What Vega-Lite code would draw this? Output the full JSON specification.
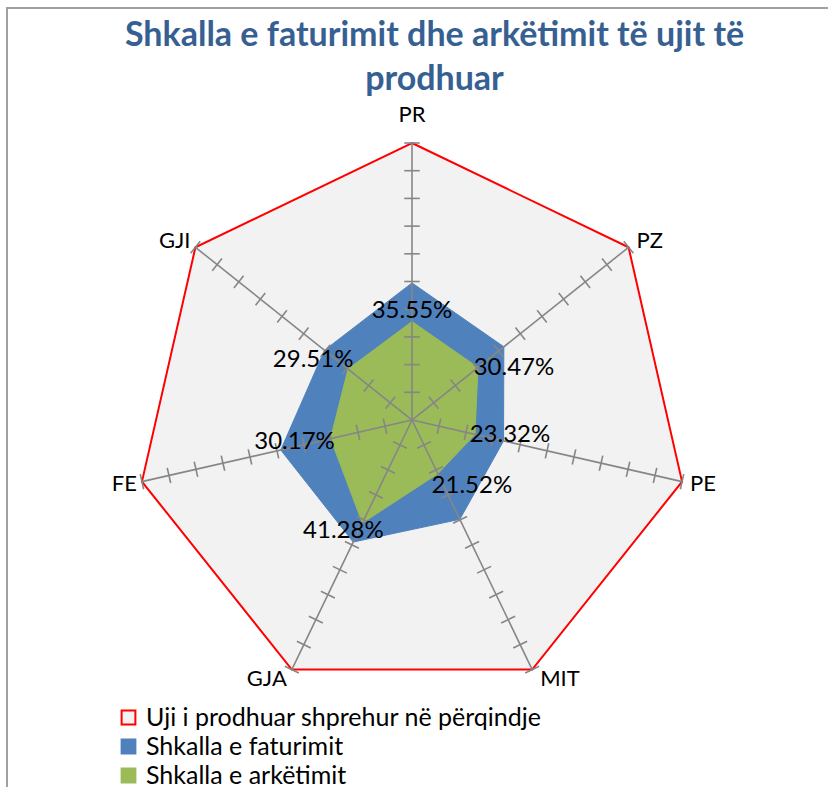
{
  "$schema": "https://vega.github.io/schema/vega-lite/v6.json",
  "width": 821,
  "height": 779,
  "autosize": {"type": "none"},
  "padding": {"left": 7, "top": 8, "right": 0, "bottom": 0},
  "background": "#ffffff",
  "title": {
    "text": ["Shkalla e faturimit dhe arkëtimit të ujit të", "prodhuar"],
    "font": "Lato", "fontSize": 34, "fontWeight": "bold", "color": "#376092",
    "anchor": "middle", "frame": "group", "offset": 0, "dy": 89, "dx": 17, "lineHeight": 44
  },
  "config": {
    "view": {"stroke": "#a0a0a0", "strokeWidth": 2, "strokeDash": [821, 1600, 779]},
    "text": {"font": "Lato", "color": "#000000"}
  },
  "datasets": {
    "radar": [
      {"k": "PR", "s": "Uji i prodhuar shprehur në përqindje", "v": 100},
      {"k": "PZ", "s": "Uji i prodhuar shprehur në përqindje", "v": 100},
      {"k": "PE", "s": "Uji i prodhuar shprehur në përqindje", "v": 100},
      {"k": "MIT", "s": "Uji i prodhuar shprehur në përqindje", "v": 100},
      {"k": "GJA", "s": "Uji i prodhuar shprehur në përqindje", "v": 100},
      {"k": "FE", "s": "Uji i prodhuar shprehur në përqindje", "v": 100},
      {"k": "GJI", "s": "Uji i prodhuar shprehur në përqindje", "v": 100},
      {"k": "PR", "s": "Shkalla e faturimit", "v": 49.5},
      {"k": "PZ", "s": "Shkalla e faturimit", "v": 42.4},
      {"k": "PE", "s": "Shkalla e faturimit", "v": 33.9},
      {"k": "MIT", "s": "Shkalla e faturimit", "v": 39.8},
      {"k": "GJA", "s": "Shkalla e faturimit", "v": 48.9},
      {"k": "FE", "s": "Shkalla e faturimit", "v": 48.6},
      {"k": "GJI", "s": "Shkalla e faturimit", "v": 40.4},
      {"k": "PR", "s": "Shkalla e arkëtimit", "v": 35.55},
      {"k": "PZ", "s": "Shkalla e arkëtimit", "v": 30.47},
      {"k": "PE", "s": "Shkalla e arkëtimit", "v": 23.32},
      {"k": "MIT", "s": "Shkalla e arkëtimit", "v": 21.52},
      {"k": "GJA", "s": "Shkalla e arkëtimit", "v": 41.28},
      {"k": "FE", "s": "Shkalla e arkëtimit", "v": 30.17},
      {"k": "GJI", "s": "Shkalla e arkëtimit", "v": 29.51}
    ],
    "spokes": [
      {"k": "PR", "t": [0.1, 0.2, 0.3, 0.4, 0.5, 0.6, 0.7, 0.8, 0.9, 1]},
      {"k": "PZ", "t": [0.1, 0.2, 0.3, 0.4, 0.5, 0.6, 0.7, 0.8, 0.9, 1]},
      {"k": "PE", "t": [0.1, 0.2, 0.3, 0.4, 0.5, 0.6, 0.7, 0.8, 0.9, 1]},
      {"k": "MIT", "t": [0.1, 0.2, 0.3, 0.4, 0.5, 0.6, 0.7, 0.8, 0.9, 1]},
      {"k": "GJA", "t": [0.1, 0.2, 0.3, 0.4, 0.5, 0.6, 0.7, 0.8, 0.9, 1]},
      {"k": "FE", "t": [0.1, 0.2, 0.3, 0.4, 0.5, 0.6, 0.7, 0.8, 0.9, 1]},
      {"k": "GJI", "t": [0.1, 0.2, 0.3, 0.4, 0.5, 0.6, 0.7, 0.8, 0.9, 1]}
    ]
  },
  "data": {"name": "radar"},
  "transform": [
    {"calculate": "indexof(['PR','PZ','PE','MIT','GJA','FE','GJI'], datum.k)", "as": "idx"},
    {"calculate": "datum.idx * 2 * PI / 7", "as": "a"},
    {"calculate": "datum.v / 100", "as": "r"},
    {"calculate": "datum.r * sin(datum.a)", "as": "x"},
    {"calculate": "datum.r * cos(datum.a)", "as": "y"},
    {"calculate": "datum.r * cos(datum.a) * 1.036", "as": "ly"},
    {"calculate": "format(datum.v, '.2f') + '%'", "as": "lab"}
  ],
  "layer": [
    {
      "transform": [{"filter": "datum.s == 'Uji i prodhuar shprehur në përqindje'"}],
      "mark": {"type": "line", "interpolate": "linear-closed", "strokeWidth": 2},
      "encoding": {
        "x": {"field": "x", "type": "quantitative", "scale": {"domain": [-1.4621, 1.5018], "nice": false, "zero": false}, "axis": null},
        "y": {"field": "y", "type": "quantitative", "scale": {"domain": [-1.3249, 1.4874], "nice": false, "zero": false}, "axis": null},
        "order": {"field": "idx", "type": "quantitative"},
        "fill": {"field": "s", "type": "nominal",
          "scale": {"domain": ["Uji i prodhuar shprehur në përqindje", "Shkalla e faturimit", "Shkalla e arkëtimit"], "range": ["#f2f2f2", "#4f81bd", "#9bbb59"]},
          "legend": {"title": null, "orient": "none", "legendX": 109, "legendY": 697, "symbolType": "square", "symbolSize": 190, "symbolStrokeWidth": 2, "labelFont": "Lato", "labelFontSize": 25, "labelColor": "#000000", "labelLimit": 700, "rowPadding": 3, "labelOffset": 5}},
        "stroke": {"field": "s", "type": "nominal",
          "scale": {"domain": ["Uji i prodhuar shprehur në përqindje", "Shkalla e faturimit", "Shkalla e arkëtimit"], "range": ["#ff0000", "#4f81bd", "#9bbb59"]},
          "legend": {"title": null, "orient": "none", "legendX": 109, "legendY": 697, "symbolType": "square", "symbolSize": 190, "symbolStrokeWidth": 2, "labelFont": "Lato", "labelFontSize": 25, "labelColor": "#000000", "labelLimit": 700, "rowPadding": 3, "labelOffset": 5}}
      }
    },
    {
      "transform": [{"filter": "datum.s == 'Shkalla e faturimit'"}],
      "mark": {"type": "line", "interpolate": "linear-closed", "strokeWidth": 1},
      "encoding": {
        "x": {"field": "x", "type": "quantitative", "scale": {"domain": [-1.4621, 1.5018], "nice": false, "zero": false}, "axis": null},
        "y": {"field": "y", "type": "quantitative", "scale": {"domain": [-1.3249, 1.4874], "nice": false, "zero": false}, "axis": null},
        "order": {"field": "idx", "type": "quantitative"},
        "fill": {"field": "s", "type": "nominal"},
        "stroke": {"field": "s", "type": "nominal"}
      }
    },
    {
      "transform": [{"filter": "datum.s == 'Shkalla e arkëtimit'"}],
      "mark": {"type": "line", "interpolate": "linear-closed", "strokeWidth": 1},
      "encoding": {
        "x": {"field": "x", "type": "quantitative", "scale": {"domain": [-1.4621, 1.5018], "nice": false, "zero": false}, "axis": null},
        "y": {"field": "y", "type": "quantitative", "scale": {"domain": [-1.3249, 1.4874], "nice": false, "zero": false}, "axis": null},
        "order": {"field": "idx", "type": "quantitative"},
        "fill": {"field": "s", "type": "nominal"},
        "stroke": {"field": "s", "type": "nominal"}
      }
    },
    {
      "data": {"name": "spokes"},
      "transform": [
        {"calculate": "indexof(['PR','PZ','PE','MIT','GJA','FE','GJI'], datum.k)", "as": "idx"},
        {"calculate": "datum.idx * 2 * PI / 7", "as": "a"},
        {"calculate": "0", "as": "z"},
        {"calculate": "sin(datum.a)", "as": "ex"},
        {"calculate": "cos(datum.a)", "as": "ey"}
      ],
      "mark": {"type": "rule", "color": "#868686", "strokeWidth": 1.6},
      "encoding": {
        "x": {"field": "z", "type": "quantitative", "scale": {"domain": [-1.4621, 1.5018], "nice": false, "zero": false}, "axis": null},
        "y": {"field": "z", "type": "quantitative", "scale": {"domain": [-1.3249, 1.4874], "nice": false, "zero": false}, "axis": null},
        "x2": {"field": "ex"},
        "y2": {"field": "ey"}
      }
    },
    {
      "data": {"name": "spokes"},
      "transform": [
        {"flatten": ["t"]},
        {"calculate": "indexof(['PR','PZ','PE','MIT','GJA','FE','GJI'], datum.k)", "as": "idx"},
        {"calculate": "datum.idx * 2 * PI / 7", "as": "a"},
        {"calculate": "datum.t * sin(datum.a) + 0.028 * cos(datum.a)", "as": "tx1"},
        {"calculate": "datum.t * cos(datum.a) - 0.028 * sin(datum.a)", "as": "ty1"},
        {"calculate": "datum.t * sin(datum.a) - 0.028 * cos(datum.a)", "as": "tx2"},
        {"calculate": "datum.t * cos(datum.a) + 0.028 * sin(datum.a)", "as": "ty2"}
      ],
      "mark": {"type": "rule", "color": "#868686", "strokeWidth": 1.6},
      "encoding": {
        "x": {"field": "tx1", "type": "quantitative", "scale": {"domain": [-1.4621, 1.5018], "nice": false, "zero": false}, "axis": null},
        "y": {"field": "ty1", "type": "quantitative", "scale": {"domain": [-1.3249, 1.4874], "nice": false, "zero": false}, "axis": null},
        "x2": {"field": "tx2"},
        "y2": {"field": "ty2"}
      }
    },
    {
      "transform": [{"filter": "datum.s == 'Shkalla e arkëtimit' && datum.k == 'PR'"}],
      "mark": {"type": "text", "fontSize": 24, "align": "center", "baseline": "middle", "dx": 0, "dy": -11},
      "encoding": {
        "x": {"field": "x", "type": "quantitative", "scale": {"domain": [-1.4621, 1.5018], "nice": false, "zero": false}, "axis": null},
        "y": {"field": "y", "type": "quantitative", "scale": {"domain": [-1.3249, 1.4874], "nice": false, "zero": false}, "axis": null},
        "text": {"field": "lab", "type": "nominal"}
      }
    },
    {
      "transform": [{"filter": "datum.s == 'Shkalla e arkëtimit' && datum.k == 'PZ'"}],
      "mark": {"type": "text", "fontSize": 24, "align": "center", "baseline": "middle", "dx": 36, "dy": 1},
      "encoding": {
        "x": {"field": "x", "type": "quantitative", "scale": {"domain": [-1.4621, 1.5018], "nice": false, "zero": false}, "axis": null},
        "y": {"field": "y", "type": "quantitative", "scale": {"domain": [-1.3249, 1.4874], "nice": false, "zero": false}, "axis": null},
        "text": {"field": "lab", "type": "nominal"}
      }
    },
    {
      "transform": [{"filter": "datum.s == 'Shkalla e arkëtimit' && datum.k == 'PE'"}],
      "mark": {"type": "text", "fontSize": 24, "align": "center", "baseline": "middle", "dx": 35, "dy": 1},
      "encoding": {
        "x": {"field": "x", "type": "quantitative", "scale": {"domain": [-1.4621, 1.5018], "nice": false, "zero": false}, "axis": null},
        "y": {"field": "y", "type": "quantitative", "scale": {"domain": [-1.3249, 1.4874], "nice": false, "zero": false}, "axis": null},
        "text": {"field": "lab", "type": "nominal"}
      }
    },
    {
      "transform": [{"filter": "datum.s == 'Shkalla e arkëtimit' && datum.k == 'MIT'"}],
      "mark": {"type": "text", "fontSize": 24, "align": "center", "baseline": "middle", "dx": 34, "dy": 12},
      "encoding": {
        "x": {"field": "x", "type": "quantitative", "scale": {"domain": [-1.4621, 1.5018], "nice": false, "zero": false}, "axis": null},
        "y": {"field": "y", "type": "quantitative", "scale": {"domain": [-1.3249, 1.4874], "nice": false, "zero": false}, "axis": null},
        "text": {"field": "lab", "type": "nominal"}
      }
    },
    {
      "transform": [{"filter": "datum.s == 'Shkalla e arkëtimit' && datum.k == 'GJA'"}],
      "mark": {"type": "text", "fontSize": 24, "align": "center", "baseline": "middle", "dx": -19, "dy": 8},
      "encoding": {
        "x": {"field": "x", "type": "quantitative", "scale": {"domain": [-1.4621, 1.5018], "nice": false, "zero": false}, "axis": null},
        "y": {"field": "y", "type": "quantitative", "scale": {"domain": [-1.3249, 1.4874], "nice": false, "zero": false}, "axis": null},
        "text": {"field": "lab", "type": "nominal"}
      }
    },
    {
      "transform": [{"filter": "datum.s == 'Shkalla e arkëtimit' && datum.k == 'FE'"}],
      "mark": {"type": "text", "fontSize": 24, "align": "center", "baseline": "middle", "dx": -36, "dy": 3},
      "encoding": {
        "x": {"field": "x", "type": "quantitative", "scale": {"domain": [-1.4621, 1.5018], "nice": false, "zero": false}, "axis": null},
        "y": {"field": "y", "type": "quantitative", "scale": {"domain": [-1.3249, 1.4874], "nice": false, "zero": false}, "axis": null},
        "text": {"field": "lab", "type": "nominal"}
      }
    },
    {
      "transform": [{"filter": "datum.s == 'Shkalla e arkëtimit' && datum.k == 'GJI'"}],
      "mark": {"type": "text", "fontSize": 24, "align": "center", "baseline": "middle", "dx": -35, "dy": -9},
      "encoding": {
        "x": {"field": "x", "type": "quantitative", "scale": {"domain": [-1.4621, 1.5018], "nice": false, "zero": false}, "axis": null},
        "y": {"field": "y", "type": "quantitative", "scale": {"domain": [-1.3249, 1.4874], "nice": false, "zero": false}, "axis": null},
        "text": {"field": "lab", "type": "nominal"}
      }
    },
    {
      "transform": [{"filter": "datum.s == 'Uji i prodhuar shprehur në përqindje' && datum.k == 'PR'"}],
      "mark": {"type": "text", "fontSize": 22, "align": "center", "baseline": "alphabetic", "dy": -21},
      "encoding": {
        "x": {"field": "x", "type": "quantitative", "scale": {"domain": [-1.4621, 1.5018], "nice": false, "zero": false}, "axis": null},
        "y": {"field": "y", "type": "quantitative", "scale": {"domain": [-1.3249, 1.4874], "nice": false, "zero": false}, "axis": null},
        "text": {"field": "k", "type": "nominal"}
      }
    },
    {
      "transform": [{"filter": "datum.s == 'Uji i prodhuar shprehur në përqindje' && datum.idx >= 1 && datum.idx <= 3"}],
      "mark": {"type": "text", "fontSize": 22, "align": "left", "baseline": "middle", "dx": 8},
      "encoding": {
        "x": {"field": "x", "type": "quantitative", "scale": {"domain": [-1.4621, 1.5018], "nice": false, "zero": false}, "axis": null},
        "y": {"field": "ly", "type": "quantitative", "scale": {"domain": [-1.3249, 1.4874], "nice": false, "zero": false}, "axis": null},
        "text": {"field": "k", "type": "nominal"}
      }
    },
    {
      "transform": [{"filter": "datum.s == 'Uji i prodhuar shprehur në përqindje' && datum.idx >= 4"}],
      "mark": {"type": "text", "fontSize": 22, "align": "right", "baseline": "middle", "dx": -5},
      "encoding": {
        "x": {"field": "x", "type": "quantitative", "scale": {"domain": [-1.4621, 1.5018], "nice": false, "zero": false}, "axis": null},
        "y": {"field": "ly", "type": "quantitative", "scale": {"domain": [-1.3249, 1.4874], "nice": false, "zero": false}, "axis": null},
        "text": {"field": "k", "type": "nominal"}
      }
    }
  ]
}
